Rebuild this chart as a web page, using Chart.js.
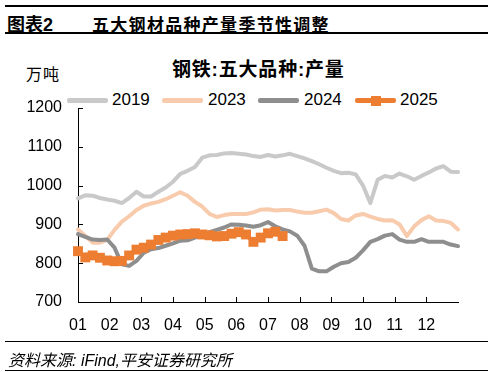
<!DOCTYPE html>
<html>
<head>
<meta charset="utf-8">
<script src="https://cdn.jsdelivr.net/npm/chart.js@4.4.1/dist/chart.umd.min.js"></script>
<style>
    body { margin: 0; width: 493px; height: 372px; background: #fff; position: relative; overflow: hidden;
           font-family: "Liberation Sans", "Noto Sans CJK SC", sans-serif; color: #000; }
    .abs { position: absolute; white-space: nowrap; }
    .rule { position: absolute; left: 5px; width: 483px; background: #000; }
    .cjk { font-family: "Liberation Sans", "Noto Sans CJK SC", sans-serif; }
    .lg-line { position: absolute; height: 5px; width: 41px; top: 98px; border-radius: 2px; }
    .lg-text { position: absolute; top: 90px; font-size: 17px; }
    .lg-sq { position: absolute; width: 10px; height: 10px; left: 16px; top: -2.5px; background: #ED7D31; }
    #chart { position: absolute; left: 0; top: 95px; }
</style>
</head>
<body>
<div class="rule" style="top:5px;height:2px"></div>
<div class="abs cjk" style="left:7px;top:10px;font-size:18px;font-weight:bold">图表2</div>
<div class="abs cjk" style="left:92px;top:11px;font-size:17px;font-weight:bold;letter-spacing:1.3px">五大钢材品种产量季节性调整</div>
<div class="rule" style="top:32px;height:2px"></div>

<div class="abs cjk" style="left:172px;top:54px;font-size:19px;font-weight:bold;letter-spacing:0.8px">钢铁:五大品种:产量</div>
<div class="abs cjk" style="left:26px;top:61px;font-size:16px;letter-spacing:1px">万吨</div>

<div class="lg-line" style="left:67px;background:#C9C9C9"></div>
<div class="lg-text" style="left:112px">2019</div>
<div class="lg-line" style="left:162px;background:#F8CBAD"></div>
<div class="lg-text" style="left:208px">2023</div>
<div class="lg-line" style="left:258px;background:#8E8E8E"></div>
<div class="lg-text" style="left:304px">2024</div>
<div class="lg-line" style="left:355px;background:#ED7D31"><div class="lg-sq"></div></div>
<div class="lg-text" style="left:400px">2025</div>

<canvas id="chart" width="493" height="250"></canvas>

<div class="rule" style="top:341px;height:1px"></div>
<div class="abs cjk" style="left:8px;top:347px;font-size:16px;font-style:italic">资料来源: iFind,平安证券研究所</div>
<div class="rule" style="top:370px;height:1px"></div>

<script>
// weekly output, 万吨
const monthLabels = ['01', '02', '03', '04', '05', '06', '07', '08', '09', '10', '11', '12'];

const prod2019 = [967, 975, 974, 968, 964, 961, 955, 968, 984, 972,
    972, 984, 995, 1010, 1030, 1038, 1048, 1072, 1078, 1079,
    1083, 1084, 1082, 1080, 1076, 1074, 1079, 1075, 1078, 1082,
    1076, 1070, 1063, 1055, 1046, 1038, 1032, 1033, 1029, 1000,
    955, 1015, 1025, 1021, 1031, 1024, 1015, 1025, 1034, 1044,
    1050, 1036, 1035];

const prod2023 = [887, 870, 853, 853, 860, 886, 907, 921, 937, 948,
    954, 958, 965, 974, 983, 974, 958, 946, 927, 919,
    924, 927, 927, 927, 931, 938, 939, 936, 937, 937,
    933, 930, 930, 934, 938, 929, 914, 910, 923, 927,
    920, 914, 910, 911, 900, 870, 895, 911, 921, 910,
    909, 904, 887];

const prod2024 = [875, 868, 861, 860, 861, 840, 797, 793, 806, 827,
    836, 839, 845, 851, 858, 859, 866, 872, 880, 886,
    892, 900, 899, 897, 894, 898, 906, 895, 887, 882,
    871, 845, 786, 779, 779, 791, 800, 803, 814, 833,
    855, 862, 871, 875, 861, 855, 855, 862, 855, 855,
    855, 848, 844];

const prod2025 = [831, 815, 820, 814, 807, 805, 806, 820, 835, 840,
    848, 860, 866, 871, 874, 875, 877, 874, 872, 869,
    870, 876, 880, 874, 855, 866, 877, 881, 870];

const yTicks = [700, 800, 900, 1000, 1100, 1200];

// week n of the year -> position on the month axis (01 = 1, end of Dec = 13)
function toPoints(values) {
    return values.map((v, i) => ({ x: 1 + i * 12 / 52, y: v }));
}

function lineSet(label, values, color, order) {
    return {
        label: label,
        data: toPoints(values),
        borderColor: color,
        backgroundColor: color,
        borderWidth: 4,
        borderCapStyle: 'round',
        borderJoinStyle: 'round',
        pointRadius: 0,
        tension: 0,
        clip: false,
        order: order
    };
}

// small inward tick marks like the source chart
const innerTicks = {
    id: 'innerTicks',
    afterDraw(chart) {
        const ctx = chart.ctx;
        const x = chart.scales.x, y = chart.scales.y;
        ctx.save();
        ctx.strokeStyle = '#000';
        ctx.lineWidth = 1;
        ctx.beginPath();
        for (let m = 2; m <= 12; m++) {
            const px = Math.round(x.getPixelForValue(m)) + 0.5;
            ctx.moveTo(px, y.bottom);
            ctx.lineTo(px, y.bottom - 5);
        }
        yTicks.forEach(v => {
            if (v === 700) return;
            const py = Math.round(y.getPixelForValue(v)) + 0.5;
            ctx.moveTo(x.left, py);
            ctx.lineTo(x.left + 5, py);
        });
        ctx.stroke();
        ctx.restore();
    }
};

const s2025 = lineSet('2025', prod2025, '#ED7D31', 0);
s2025.pointRadius = 7;
s2025.pointStyle = 'rect';
s2025.pointBorderWidth = 0;

new Chart(document.getElementById('chart'), {
    type: 'line',
    data: {
        datasets: [
            s2025,
            lineSet('2024', prod2024, '#8E8E8E', 1),
            lineSet('2023', prod2023, '#F8CBAD', 2),
            lineSet('2019', prod2019, '#C9C9C9', 3)
        ]
    },
    options: {
        responsive: false,
        animation: false,
        layout: { autoPadding: false, padding: { top: 13, right: 35, left: 0, bottom: 0 } },
        plugins: {
            legend: { display: false },
            tooltip: { enabled: false }
        },
        scales: {
            x: {
                type: 'linear',
                min: 1,
                max: 13,
                afterFit: s => { s.height = 43; s.paddingLeft = 0; s.paddingRight = 0; },
                afterBuildTicks: s => { s.ticks = monthLabels.map((_, i) => ({ value: i + 1 })); },
                grid: { display: true, drawOnChartArea: false, drawTicks: false },
                border: { display: true, color: '#000', width: 1 },
                ticks: {
                    autoSkip: false,
                    maxRotation: 0,
                    padding: 14,
                    color: '#000',
                    font: { family: 'Liberation Sans', size: 16 },
                    callback: v => monthLabels[v - 1] || ''
                }
            },
            y: {
                min: 700,
                max: 1200,
                afterFit: s => { s.width = 78; s.paddingTop = 0; s.paddingBottom = 0; },
                afterBuildTicks: s => { s.ticks = yTicks.map(v => ({ value: v })); },
                grid: { display: true, drawOnChartArea: false, drawTicks: false },
                border: { display: true, color: '#000', width: 1 },
                ticks: {
                    padding: 16,
                    color: '#000',
                    font: { family: 'Liberation Sans', size: 16 },
                    callback: v => String(v)
                }
            }
        }
    },
    plugins: [innerTicks]
});
</script>
</body>
</html>
